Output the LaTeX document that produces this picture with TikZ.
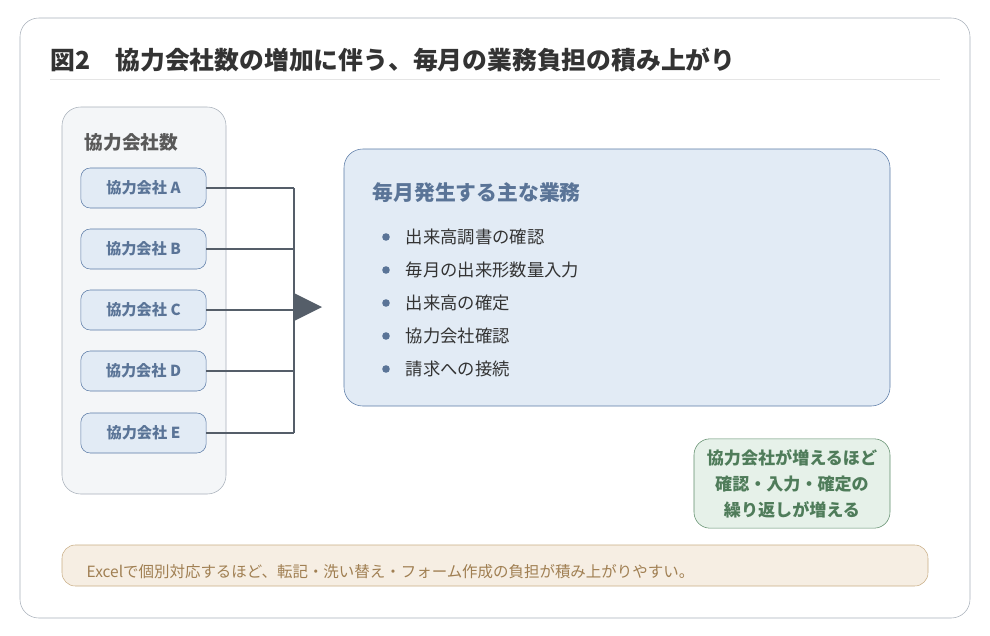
\documentclass[tikz,border=0pt]{standalone}
\usepackage{fontspec}
\setmainfont{Noto Sans CJK JP}
\usetikzlibrary{positioning}
\definecolor{bordergray}{HTML}{A8B0BA}
\definecolor{panelfill}{HTML}{F4F6F8}
\definecolor{bluefill}{HTML}{E2EBF5}
\definecolor{blueline}{HTML}{5A7AA6}
\definecolor{bluetext}{HTML}{5A7497}
\definecolor{darkline}{HTML}{555E69}
\definecolor{greenfill}{HTML}{E6F1E9}
\definecolor{greenline}{HTML}{5E8C6A}
\definecolor{greentext}{HTML}{4F7C5A}
\definecolor{notefill}{HTML}{F6EEE3}
\definecolor{noteline}{HTML}{C9AE85}
\definecolor{notetext}{HTML}{A07F52}
\tikzset{
  company/.style={draw=blueline, fill=bluefill, rounded corners=7pt, minimum width=94pt, minimum height=30pt, text=bluetext, font=\bfseries\fontsize{11.4}{13}\selectfont},
  task/.style={anchor=west, text=black!80, font=\fontsize{13}{15}\selectfont},
  feed/.style={darkline, line width=1.4pt}
}
\begin{document}
\begin{tikzpicture}[x=0.75pt, y=-0.75pt]
  \useasboundingbox (0,0) rectangle (990,636);
  \draw[bordergray, fill=white, rounded corners=14pt] (20,18) rectangle (970,618);
  \node[anchor=west, text=black!80, font=\bfseries\fontsize{18.6}{20}\selectfont] (title) at (46,60) {図2\quad 協力会社数の増加に伴う、毎月の業務負担の積み上がり};
  \draw[black!10] (50,79) -- (940,79);

  % left panel
  \draw[bordergray, fill=panelfill, rounded corners=14pt] (62,107) rectangle (226,494);
  \node[anchor=west, text=black!65, font=\bfseries\fontsize{14}{16}\selectfont] (count) at (80,142) {協力会社数};
  \coordinate (join) at (294,0);
  \foreach \n/\y in {A/188, B/249, C/310, D/371, E/433} {
    \node[company] (co\n) at (143.5,\y) {協力会社 \n};
    \draw[feed] (co\n.east) -- (join |- co\n.east);
  }
  \draw[feed] (join |- coA.east) -- (join |- coE.east);
  \coordinate (tip) at (322,307);
  \fill[darkline] (294,293) -- (tip) -- (294,321) -- cycle;

  % main tasks
  \draw[blueline, fill=bluefill, rounded corners=14pt] (344,149) rectangle (890,406);
  \node[anchor=west, text=bluetext, font=\bfseries\fontsize{15.6}{17}\selectfont] (head) at (368,193) {毎月発生する主な業務};
  \foreach \t [count=\i] in {出来高調書の確認, 毎月の出来形数量入力, 出来高の確定, 協力会社確認, 請求への接続} {
    \fill[bluetext] (386,204+33*\i) circle (3.8);
    \node[task] (task\i) at (401,204+33*\i) {\t};
  }

  % note
  \node[draw=greenline, fill=greenfill, rounded corners=12pt, minimum width=147pt, minimum height=67pt, align=center, text=greentext, font=\bfseries\fontsize{12.8}{19.5}\selectfont] (more) at (792,483.5) {協力会社が増えるほど\\確認・入力・確定の\\繰り返しが増える};
  \draw[noteline, fill=notefill, rounded corners=10pt] (62,545) rectangle (928,586);
  \node[anchor=west, text=notetext, font=\fontsize{11.6}{13}\selectfont] (excel) at (82,572) {Excelで個別対応するほど、転記・洗い替え・フォーム作成の負担が積み上がりやすい。};
\end{tikzpicture}
\end{document}
